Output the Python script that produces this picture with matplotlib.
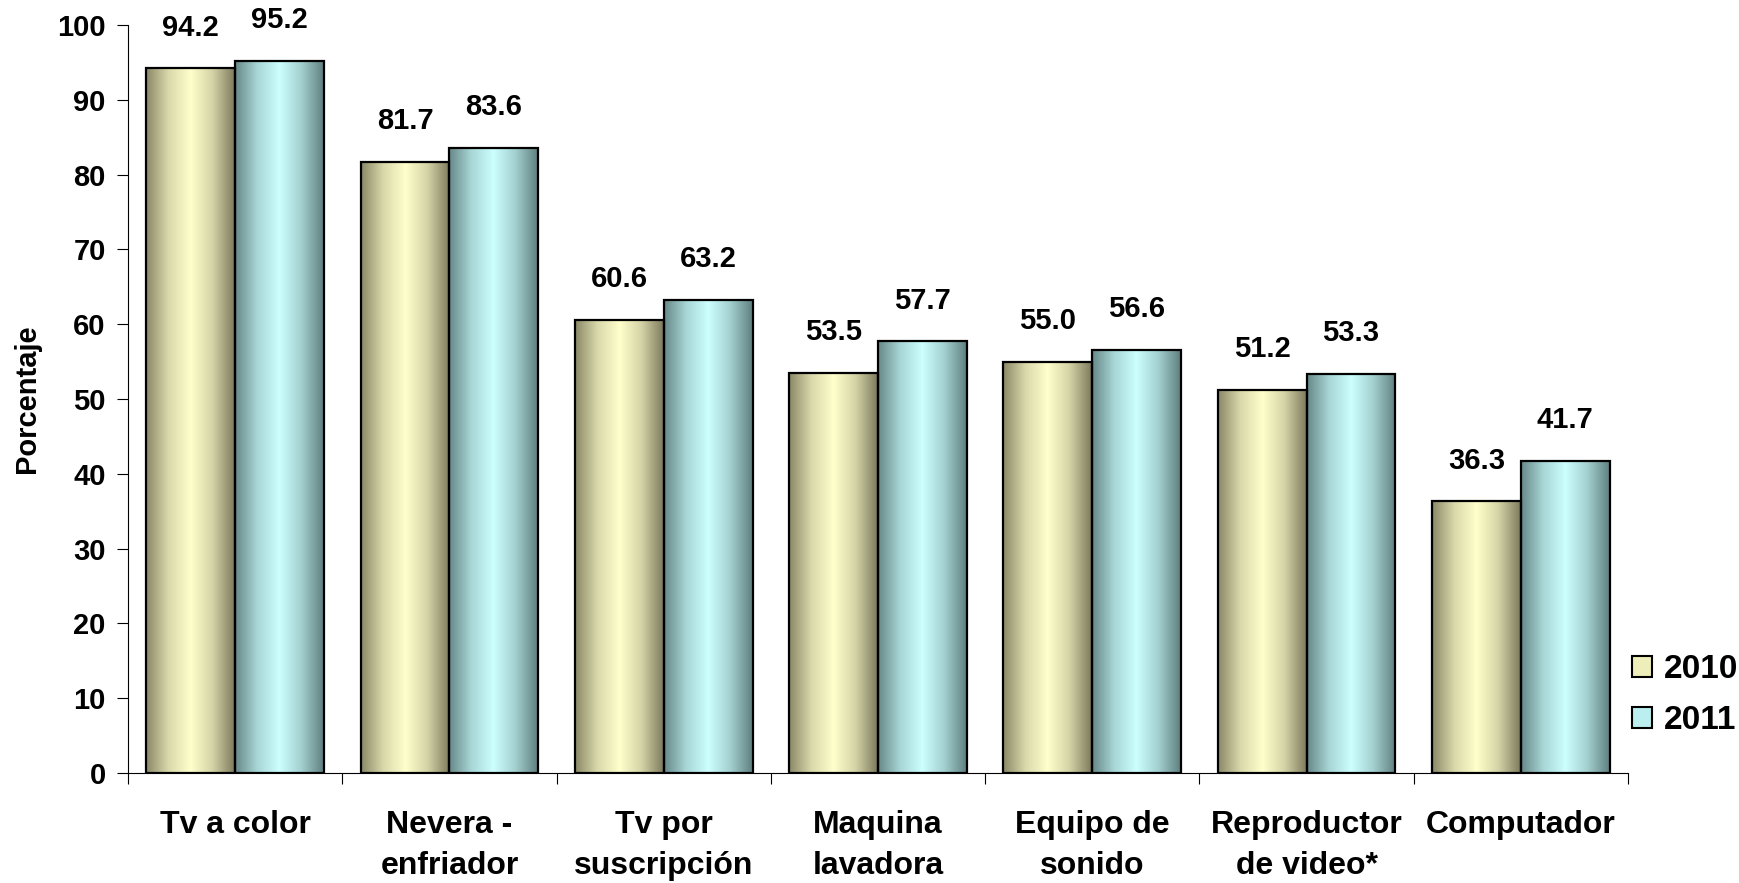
import matplotlib
matplotlib.use("Agg")
import matplotlib.pyplot as plt
import numpy as np
from matplotlib.colors import LinearSegmentedColormap
from matplotlib.patches import Patch

categorias = ["Tv a color", "Nevera -\nenfriador", "Tv por\nsuscripción", "Maquina\nlavadora",
              "Equipo de\nsonido", "Reproductor\nde video*", "Computador"]
v2010 = [94.2, 81.7, 60.6, 53.5, 55.0, 51.2, 36.3]
v2011 = [95.2, 83.6, 63.2, 57.7, 56.6, 53.3, 41.7]
anios = ["2010", "2011"]

plt.rcParams['font.family'] = ['Liberation Sans', 'DejaVu Sans']
plt.rcParams['font.weight'] = 'bold'

fig = plt.figure(figsize=(17.4, 8.83), dpi=100)
ax = fig.add_axes([0.0736, 0.1246, 0.862, 0.847])

cmap10 = LinearSegmentedColormap.from_list("c10", ["#8a8866", "#d8d8aa", "#ffffcc", "#d4d3a6", "#7c7a5c"])
cmap11 = LinearSegmentedColormap.from_list("c11", ["#678888", "#a8d6d6", "#ccffff", "#a3cfcf", "#5f7f7f"])
grad = np.linspace(0, 1, 256).reshape(1, -1)

x = np.arange(len(categorias))
w = 0.415
for vals, off, cm in [(v2010, -w / 2, cmap10), (v2011, w / 2, cmap11)]:
    bars = ax.bar(x + off, vals, width=w, facecolor="none", edgecolor="black", linewidth=1.6, zorder=3)
    for b, v in zip(bars, vals):
        x0 = b.get_x()
        im = ax.imshow(grad, cmap=cm, aspect="auto", extent=(x0, x0 + w, 0, v), zorder=2,
                       interpolation="bicubic")
        im.set_clip_path(b)
        ax.text(x0 + w / 2, v + 3.6, "%.1f" % v, ha="center", va="bottom", fontsize=21, fontweight="bold")

ax.set_xlim(-0.5, len(categorias) - 0.5)
ax.set_ylim(0, 100)
ax.set_yticks(range(0, 101, 10))
ax.set_xticks(np.arange(-0.5, len(categorias), 1.0))
ax.set_xticklabels([])
ax.set_xticks(x, minor=True)
ax.set_xticklabels(categorias, minor=True, fontsize=23, fontweight="bold", linespacing=1.45, va="top")
ax.tick_params(axis="x", which="minor", length=0, pad=27)
ax.tick_params(axis="x", which="major", length=8, direction="out")
ax.tick_params(axis="y", length=8, labelsize=21, pad=8)
for lab in ax.get_yticklabels():
    lab.set_fontweight("bold")
for s in ["top", "right"]:
    ax.spines[s].set_visible(False)
ax.set_ylabel("Porcentaje", fontsize=21, fontweight="bold", labelpad=12)

handles = [Patch(facecolor="#eeeebb", edgecolor="black", linewidth=1.5),
           Patch(facecolor="#bbeeee", edgecolor="black", linewidth=1.5)]
fig.legend(handles, anios, loc="center left", bbox_to_anchor=(0.938, 0.213), frameon=False,
           prop={"size": 24, "weight": "bold"}, handlelength=0.6, handleheight=0.6,
           handletextpad=0.35, labelspacing=0.6, borderaxespad=0, borderpad=0)

fig.savefig("out.png", dpi=100)
